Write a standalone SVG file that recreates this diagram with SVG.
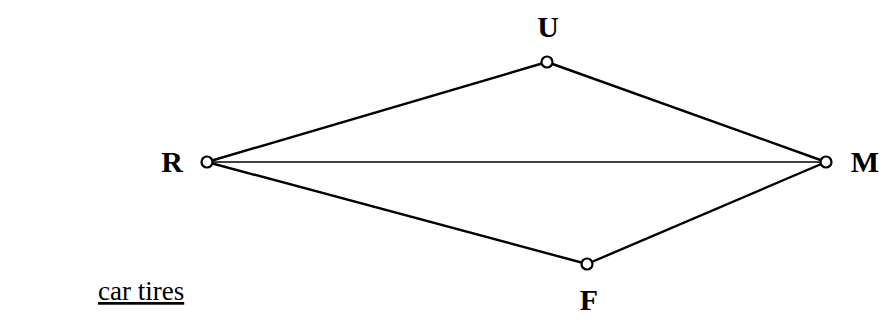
<svg xmlns="http://www.w3.org/2000/svg" width="894" height="323" viewBox="0 0 894 323">
<style>
.edge{stroke:#000;stroke-width:2.4;fill:none}
.thin{stroke:#000;stroke-width:1.4;fill:none}
.node{fill:#fff;stroke:#000;stroke-width:2.2}
.lbl{font-family:"Liberation Serif",serif;font-weight:bold;font-size:30px;fill:#000}
.cap{font-family:"Liberation Serif",serif;font-size:27px;fill:#000}
</style>
<rect width="894" height="323" fill="#fff"/>
<g id="connectors">
<line class="edge" x1="547" y1="62" x2="207" y2="162"/>
<line class="edge" x1="547" y1="62" x2="826" y2="162"/>
<line class="thin" x1="207" y1="162" x2="826" y2="162"/>
<line class="edge" x1="207" y1="162" x2="587" y2="264"/>
<line class="edge" x1="587" y1="264" x2="826" y2="162"/>
</g>
<g id="node-U"><circle class="node" cx="547" cy="62" r="5.5"/><text class="lbl" x="548" y="37" text-anchor="middle">U</text></g>
<g id="node-R"><circle class="node" cx="207" cy="162" r="5.5"/><text class="lbl" x="172" y="172" text-anchor="middle">R</text></g>
<g id="node-M"><circle class="node" cx="826" cy="162" r="5.5"/><text class="lbl" x="865" y="172" text-anchor="middle">M</text></g>
<g id="node-F"><circle class="node" cx="587" cy="264" r="5.5"/><text class="lbl" x="589" y="310" text-anchor="middle">F</text></g>
<g id="caption"><text class="cap" x="98" y="300" text-decoration="underline">car tires</text></g>
</svg>
